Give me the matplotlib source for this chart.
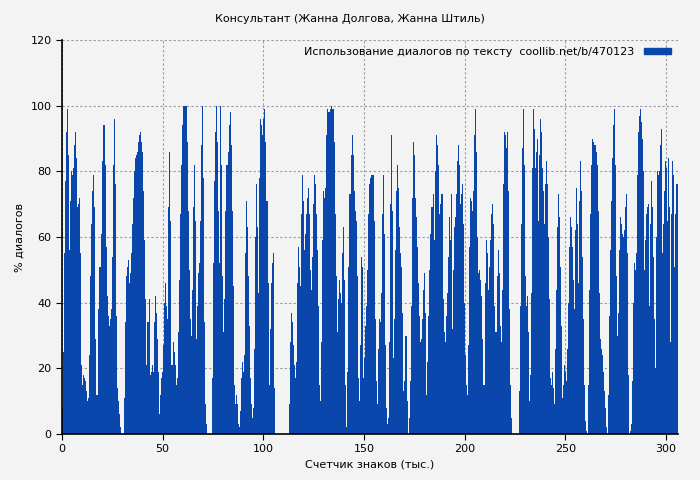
import numpy as np
import matplotlib
matplotlib.use("Agg")
import matplotlib.pyplot as plt
from matplotlib.patches import Patch

seg1 = [8,25,55,77,92,99,85,56,71,80,79,81,88,92,84,69,70,72,55,21,15,18,17,16,13,10,11,24,48,64,
        74,79,69,29,12,12,38,51,51,61,83,94,82,57,42,36,33,35,38,54,82,96,76,36,14,10,6,2,0,0,
        0,11,34,48,51,53,46,49,55,64,72,80,84,85,86,89,91,92,89,86,74,59,41,21,34,34,41,18,19,21,
        19,34,42,37,29,19,6,12,17,19]
seg2 = [27,40,46,39,35,69,86,65,21,21,28,25,21,15,17,31,47,67,82,94,100,100,100,89,68,50,35,30,44,69,
        82,65,29,39,49,52,65,88,100,78,34,9,3,0,0,0,0,0,17,52,77,92,100,89,68,52,100,82,48,31,41,68,
        82,82,86,94,98,88,68,45,15,9,12,9,3,2,7,17,22,19,24,55,71,63,48,33,17,9,5,8,26,60,76,63,43,
        78,96,94,91,96]
seg3 = [99,89,71,46,15,32,46,52,55,14,0,0,0,0,0,0,0,0,0,0,0,0,0,0,
        9,28,37,34,27,21,17,22,46,57,51,45,67,79,71,56,61,67,72,75,67,50,44,54,70,79,76,67,56,39,15,10,
        28,59,74,72,75,91,99,98,98,99,100,99,99,89,67,48,31,41,47,43,40,55,63,47,15,2,19,51,73,85,91,85,
        74,68,65,48,17,10,27]
seg4 = [54,51,17,23,33,39,50,67,76,78,79,79,79,65,35,16,9,26,35,34,43,67,79,61,27,8,3,5,28,70,91,68,
        23,35,56,74,82,75,63,55,51,37,13,16,30,30,10,0,5,16,39,72,89,85,72,66,57,46,36,28,29,35,44,49,
        37,12,22,36,50,61,69,73,59,80,91,88,82,67,70,73,73,41,31,28,36,43,54,66,59,73,32,50,63,66,73,83,88]
seg5 = [82,70,73,76,64,40,24,15,12,27,57,72,71,68,74,91,99,86,60,49,50,47,42,29,15,15,46,59,55,44,51,
        59,67,70,64,39,31,31,48,56,49,33,28,44,76,92,91,87,92,74,38,15,5,0,0,0,0,0,0,13,39,64,87,99,82,
        48,39,42,31,10,18,43,81,99,93,81,86,90,65,85,96,92,81,74,64,76,83,76,60,41,17,15,19,14,9,26,44,
        63,73,66]
seg6 = [51,33,11,15,21,19,16,26,40,57,66,63,57,47,38,62,75,64,46,71,83,74,54,35,15,4,1,0,15,44,67,82,
        90,89,88,86,82,68,43,29,26,24,19,13,8,2,0,12,36,56,71,84,94,99,82,48,30,37,56,66,64,61,60,62,69,
        73,55,18,0,1,3,16,40,52,50,55,79,92,97,99,95,90,80,50,59,67,69,70,39,64,77,69,54,35,20,60,80,79,
        80,88,93,55,64,74,83,81,65,84,69,28,67,83,79,51,67,76]

values = np.array(seg1 + seg2 + seg3 + seg4 + seg5 + seg6, dtype=float)
x_start, x_end = 0.25, 305.5
xs = np.linspace(x_start, x_end, len(values))
step = xs[1] - xs[0]

bg = "#f3f3f3"
blue = "#0a47ad"
fig = plt.figure(figsize=(7, 4.8), dpi=100, facecolor=bg)
ax = fig.add_axes([62/700, 1-434/480, 616/700, 394/480], facecolor=bg)
ax.bar(xs, values, width=step*1.02, color=blue, linewidth=0, align="center", zorder=2)
ax.set_xlim(0, 306)
ax.set_ylim(0, 120)
ax.set_xticks(np.arange(0, 301, 50))
ax.set_yticks(np.arange(0, 121, 20))
ax.grid(True, color="#999999", linestyle=(0, (2, 2)), linewidth=0.8, zorder=1)
for s in ["top", "right"]:
    ax.spines[s].set_visible(False)
for s in ["left", "bottom"]:
    ax.spines[s].set_linewidth(1.2)
ax.tick_params(labelsize=8, length=4)
ax.set_xlabel("Счетчик знаков (тыс.)", fontsize=8)
ax.set_ylabel("% диалогов", fontsize=8)
fig.suptitle("Консультант (Жанна Долгова, Жанна Штиль)", fontsize=8, y=0.97)
leg = ax.legend(handles=[Patch(color=blue)],
                labels=["Использование диалогов по тексту  coollib.net/b/470123"],
                loc="upper right", fontsize=8, frameon=False, markerfirst=False,
                handlelength=2.5, handleheight=0.5, borderaxespad=0.2)
fig.savefig("out.png", dpi=100, facecolor=bg)
